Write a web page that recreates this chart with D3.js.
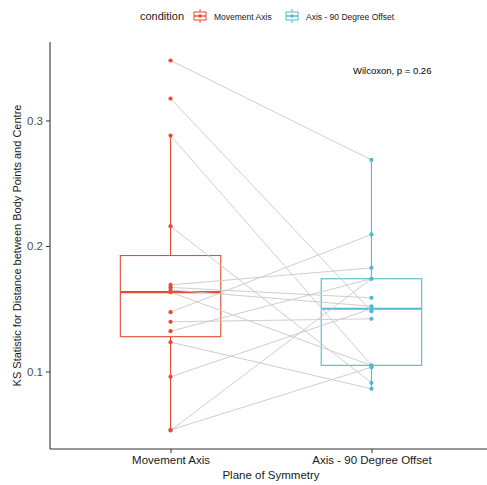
<!DOCTYPE html>
<html>
<head>
<meta charset="utf-8">
<script src="https://cdn.jsdelivr.net/npm/d3@7"></script>
<style>
  html, body { margin: 0; padding: 0; background: #fff; }
  svg { display: block; font-family: "Liberation Sans", Arial, Helvetica, sans-serif; }
</style>
</head>
<body>
<svg id="chart" width="487" height="485"></svg>
<script>
// Conditions (x categories) and their colours
const conditions = ["Movement Axis", "Axis - 90 Degree Offset"];
const colors = ["#E64B35", "#4DBBD5"];

// Paired KS statistics per subject, one entry per subject in each array
const movementAxis = [0.3478, 0.3175, 0.288, 0.2158, 0.169, 0.167, 0.165, 0.1632,
                      0.1473, 0.1396, 0.1321, 0.1234, 0.0958, 0.053, 0.0535];
const offsetAxis   = [0.2686, 0.148, 0.105, 0.091, 0.1826, 0.1587, 0.152, 0.1048,
                      0.2092, 0.142, 0.1739, 0.0862, 0.150, 0.1739, 0.1034];

const yTicks = [0.1, 0.2, 0.3];
const yTickLabels = ["0.1", "0.2", "0.3"];
const statLabel = "Wilcoxon, p = 0.26";
const xTitle = "Plane of Symmetry";
const yTitle = "KS Statistic for Distance between Body Points and Centre";
const legendTitle = "condition";

const svg = d3.select("#chart");
const panel = { left: 50, right: 492, top: 42, bottom: 449 };

// Discrete x positions with ggplot-like 0.6 expansion on each side
const x = d3.scaleLinear().domain([0.4, 2.6]).range([panel.left, panel.right]);
const xPos = i => x(i + 1);
const all = movementAxis.concat(offsetAxis);
const ext = d3.extent(all);
const pad = (ext[1] - ext[0]) * 0.05;
const y = d3.scaleLinear().domain([ext[0] - pad, ext[1] + pad]).range([panel.bottom, panel.top]);

const groups = [movementAxis, offsetAxis];
const boxHalf = (xPos(1) - xPos(0)) * 0.25;

// Box-and-whisker stats (Tukey, type-7 quantiles)
function boxStats(vals) {
  const s = vals.slice().sort(d3.ascending);
  const q1 = d3.quantile(s, 0.25), med = d3.quantile(s, 0.5), q3 = d3.quantile(s, 0.75);
  const iqr = q3 - q1;
  const lo = d3.min(s.filter(v => v >= q1 - 1.5 * iqr));
  const hi = d3.max(s.filter(v => v <= q3 + 1.5 * iqr));
  return { q1, med, q3, lo, hi };
}

const gBox = svg.append("g");
groups.forEach((vals, i) => {
  const st = boxStats(vals);
  const cx = xPos(i);
  const g = gBox.append("g").attr("stroke", colors[i]).attr("fill", "none");
  g.append("line").attr("x1", cx).attr("x2", cx).attr("y1", y(st.q3)).attr("y2", y(st.hi)).attr("stroke-width", 1.1);
  g.append("line").attr("x1", cx).attr("x2", cx).attr("y1", y(st.q1)).attr("y2", y(st.lo)).attr("stroke-width", 1.1);
  g.append("rect").attr("x", cx - boxHalf).attr("width", boxHalf * 2)
    .attr("y", y(st.q3)).attr("height", y(st.q1) - y(st.q3)).attr("stroke-width", 1.1);
  g.append("line").attr("x1", cx - boxHalf).attr("x2", cx + boxHalf)
    .attr("y1", y(st.med)).attr("y2", y(st.med)).attr("stroke-width", 2.2);
});

// Lines connecting each subject's paired values
svg.append("g").selectAll("line").data(movementAxis).join("line")
  .attr("x1", xPos(0)).attr("x2", xPos(1))
  .attr("y1", d => y(d)).attr("y2", (d, j) => y(offsetAxis[j]))
  .attr("stroke", "#c8c8c8").attr("stroke-width", 0.9);

// Points
groups.forEach((vals, i) => {
  svg.append("g").selectAll("circle").data(vals).join("circle")
    .attr("cx", xPos(i)).attr("cy", d => y(d)).attr("r", 2.1)
    .attr("fill", colors[i]);
});

// Axes
const yAxis = d3.axisLeft(y).tickValues(yTicks).tickFormat((d, i) => yTickLabels[i]).tickSize(4).tickPadding(3);
const gy = svg.append("g").attr("transform", `translate(${panel.left},0)`).call(yAxis);
gy.select(".domain").attr("d", `M0,${panel.top}V${panel.bottom}`).attr("stroke", "#333").attr("stroke-width", 1.1);
gy.selectAll(".tick line").attr("stroke", "#333");
gy.selectAll(".tick text").attr("font-size", 11.5).attr("fill", "#4d4d4d").attr("font-family", "Liberation Sans, Arial, sans-serif");

const xBand = d3.scaleOrdinal().domain(conditions).range(conditions.map((c, i) => xPos(i)));
const xAxis = d3.axisBottom(xBand).tickSize(4).tickPadding(3);
const gx = svg.append("g").attr("transform", `translate(0,${panel.bottom})`).call(xAxis);
gx.select(".domain").attr("d", `M${panel.left},0H${panel.right}`).attr("stroke", "#333").attr("stroke-width", 1.1);
gx.selectAll(".tick line").attr("stroke", "#333");
gx.selectAll(".tick text").attr("font-size", 11.5).attr("fill", "#1a1a1a").attr("font-family", "Liberation Sans, Arial, sans-serif");

// Axis titles
svg.append("text").attr("x", (panel.left + panel.right) / 2).attr("y", 479).attr("text-anchor", "middle")
  .attr("font-size", 11.5).attr("fill", "#1a1a1a").text(xTitle);
svg.append("text").attr("transform", `translate(21,${(panel.top + panel.bottom) / 2}) rotate(-90)`)
  .attr("text-anchor", "middle").attr("font-size", 11).attr("fill", "#1a1a1a").text(yTitle);

// Test result label
svg.append("text").attr("x", 353).attr("y", 74).attr("font-size", 9.5).attr("fill", "#000").text(statLabel);

// Legend
const lg = svg.append("g");
lg.append("text").attr("x", 140).attr("y", 20).attr("font-size", 11).attr("fill", "#1a1a1a").text(legendTitle);
const keyX = [193, 285];
const labX = [214, 306];
conditions.forEach((c, i) => {
  const k = lg.append("g").attr("transform", `translate(${keyX[i]},9)`).attr("stroke", colors[i]).attr("fill", "none");
  k.append("line").attr("x1", 7).attr("x2", 7).attr("y1", 0).attr("y2", 3);
  k.append("line").attr("x1", 7).attr("x2", 7).attr("y1", 11).attr("y2", 14);
  k.append("rect").attr("x", 1).attr("y", 3).attr("width", 12).attr("height", 8);
  k.append("line").attr("x1", 1).attr("x2", 13).attr("y1", 7).attr("y2", 7).attr("stroke-width", 1.4);
  k.append("circle").attr("cx", 7).attr("cy", 7).attr("r", 1.8).attr("fill", colors[i]).attr("stroke", "none");
  lg.append("text").attr("x", labX[i]).attr("y", 19.5).attr("font-size", 8.5).attr("fill", "#1a1a1a").text(c);
});
</script>
</body>
</html>
